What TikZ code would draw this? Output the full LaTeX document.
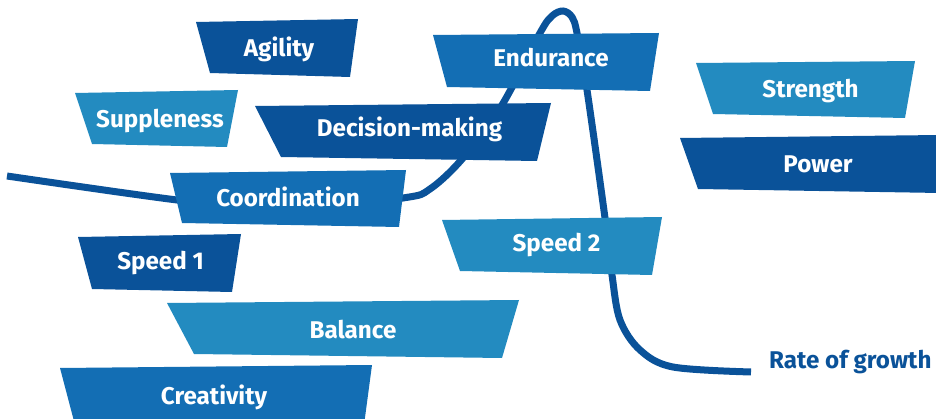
\documentclass[tikz,border=0pt]{standalone}
\usepackage{fontspec}
\setmainfont{Fira Sans}
\definecolor{dblue}{RGB}{10,82,153}
\definecolor{mblue}{RGB}{19,110,180}
\definecolor{lblue}{RGB}{35,139,192}
\begin{document}
\begin{tikzpicture}[x=1pt,y=-1pt,
  lbl/.style={text=white,font=\bfseries\fontsize{24.2}{27}\selectfont,inner sep=0pt,anchor=base},
  curve/.style={dblue,line width=7pt},
  dbox/.style={fill=dblue},
  mbox/.style={fill=mblue},
  lbox/.style={fill=lblue}]
\useasboundingbox (0,0) rectangle (936,419);
\clip (0,0) rectangle (936,419);
% growth curve
\coordinate (cstart) at (7,176);
\coordinate (cend) at (751,372);
\draw[curve] plot[smooth,tension=0.55] coordinates {(7,176) (177,200) (290,211) (403,198) (430,189) (463,158) (502,105) (540,33) (552,16) (563,11) (572,17) (577,33) (587,90) (605,218) (612,275) (620,320) (640,350) (673,367) (751,372)};
% boxes
\fill[dbox] (196,22) -- (358,19) -- (350,77) -- (210,73) -- cycle;
\node[lbl] (agility) at (279,57) {Agility};
\fill[lbox] (75,93) -- (238,90) -- (227,147) -- (92,144) -- cycle;
\node[lbl] (suppleness) at (160,128) {Suppleness};
\fill[dbox] (255,106) -- (551,103) -- (537,161) -- (281,157) -- cycle;
\node[lbl] (decision) at (409.5,137) {Decision-making};
\fill[mbox] (170,173) -- (406,170) -- (399,227) -- (182,223) -- cycle;
\node[lbl] (coordination) at (288,207) {Coordination};
\fill[mbox] (433,35) -- (659,33) -- (650,91) -- (447,87) -- cycle;
\node[lbl] (endurance) at (551,67) {Endurance};
\fill[lbox] (696,63) -- (915,61) -- (905,118) -- (713,114) -- cycle;
\node[lbl] (strength) at (810.5,98) {Strength};
\fill[dbox] (680,138) -- (940,135) -- (940,193) -- (698,189) -- cycle;
\node[lbl] (power) at (818,173) {Power};
\fill[lbox] (442,220) -- (662,217) -- (652,275) -- (460,271) -- cycle;
\node[lbl] (speed2) at (556.5,252) {Speed 2};
\fill[dbox] (78,237) -- (241,234) -- (232,292) -- (92,289) -- cycle;
\node[lbl] (speed1) at (160.5,270) {Speed 1};
\fill[lbox] (167,303) -- (519,300) -- (502,358) -- (194,354) -- cycle;
\node[lbl] (balance) at (353,338) {Balance};
\fill[mbox] (60,368) -- (372,365) -- (364,425) -- (75,425) -- cycle;
\node[lbl] (creativity) at (214,404) {Creativity};
\node[lbl,text=dblue,anchor=base west] (growth) at (769,368) {Rate of growth};
\end{tikzpicture}
\end{document}
